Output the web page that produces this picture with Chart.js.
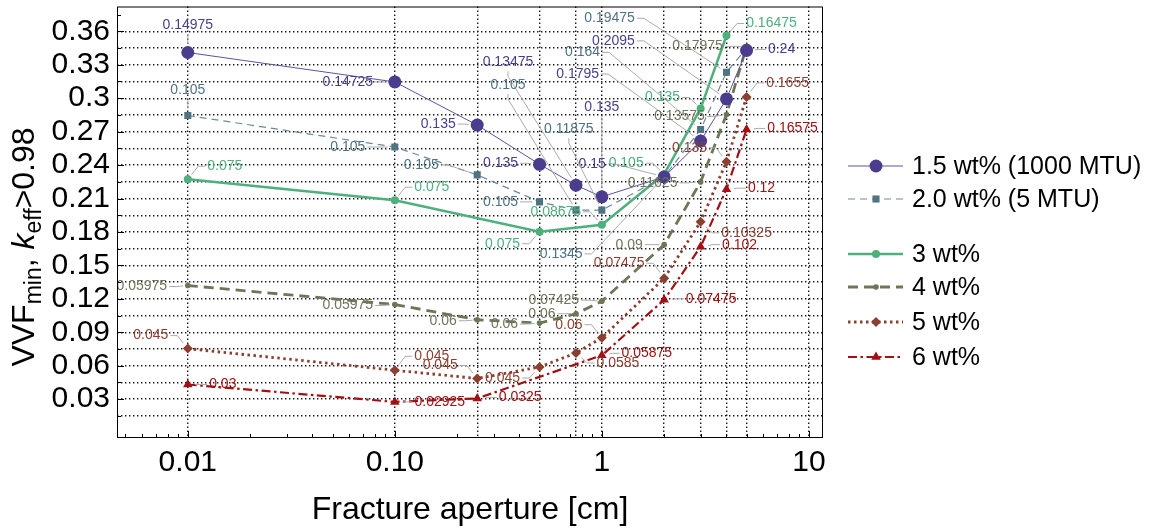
<!DOCTYPE html>
<html>
<head>
<meta charset="utf-8">
<script src="https://cdn.jsdelivr.net/npm/chart.js@4.4.1/dist/chart.umd.min.js"></script>
<style>
  html, body { margin: 0; padding: 0; background: #fff; }
</style>
</head>
<body>
<canvas id="vvf" width="1151" height="529"></canvas>
<script>
// fracture apertures in cm (x), min. VVF with keff > 0.98 per enrichment (y)
const aperture = [0.01, 0.1, 0.25, 0.5, 0.75, 1, 2, 3, 4, 5];
const vvf15 = [0.341, 0.3146, 0.2759, 0.2407, 0.2219, 0.2115, 0.2294, 0.2616, 0.2994, 0.3429];
const vvf20 = [0.2845, 0.2562, 0.2312, 0.207, 0.1996, 0.1996, 0.2294, 0.272, 0.3233, 0.345];
const vvf3 = [0.2273, 0.2085, null, 0.1802, null, 0.1864, 0.2318, 0.2908, 0.3563, null];
const vvf4 = [0.1319, 0.1149, 0.1012, 0.0982, 0.1066, 0.1179, 0.1686, 0.2249, 0.2854, 0.3465];
const vvf5 = [0.0753, 0.0559, 0.0485, 0.0588, 0.0714, 0.0851, 0.1384, 0.1891, 0.243, 0.3012];
const vvf6 = [0.0431, 0.0275, 0.0306, null, null, 0.0693, 0.1191, 0.1668, 0.2184, 0.272];

// callout texts next to each point
const note15 = ['0.14975', '0.14725', '0.135', '0.135', '0.13475', '0.135', '0.15', '0.1795', '0.2095', '0.24'];
const note20 = ['0.105', '0.105', '0.105', '0.105', '0.105', '0.11875', '0.1345', '0.164', '0.19475', null];
const note3 = ['0.075', '0.075', null, '0.075', null, '0.08675', '0.105', '0.135', '0.16475', null];
const note4 = ['0.05975', '0.05975', '0.06', '0.06', '0.06', '0.07425', '0.09', '0.11625', '0.13575', '0.17975'];
const note5 = ['0.045', '0.045', '0.045', '0.045', '0.0585', '0.06', '0.07475', '0.10325', '0.135', '0.1655'];
const note6 = ['0.03', '0.02925', '0.0325', null, null, '0.05875', '0.07475', '0.102', '0.12', '0.16575'];

const seriesNames = ['1.5 wt% (1000 MTU)', '2.0 wt% (5 MTU)', '3 wt%', '4 wt%', '5 wt%', '6 wt%'];
const xGrid = [0.01, 0.1, 0.25, 0.5, 0.75, 1, 2, 3, 4, 5, 10];
const xLabels = { 0.01: '0.01', 0.1: '0.10', 1: '1', 10: '10' };

// where each callout text sits, in px from its point
const place15 = [[0, -27], [-47, 0], [-39, -1], [-39, -1], [-68, -123], [0, -90], [-72, -13], [-123, -67], [-113, -58], [35, -1]];
const place20 = [[0, -25], [-47, 0], [-56, -10], [-39, 0], [-68, -125], [-33, -81], [-103, 77], [-118, -77], [-117, -54], null];
const place3 = [[37, -13], [37, -13], null, [-37, 12], null, [-46, -13], [-38, -11], [-38, -11], [45, -12], null];
const place4 = [[-46, 1], [-47, 1], [-34, 1], [-35, 1], [-34, 0], [-48, -1], [-35, 0], [-48, 1], [-47, 2], [-49, 0]];
const place5 = [[-37, -13], [37, -14], [-37, -13], [-37, 11], [42, 10], [-33, -13], [-45, -15], [46, 11], [-37, -14], [41, -14]];
const place6 = [[35, 0], [45, 0], [43, -1], null, null, [45, -2], [47, -1], [39, -2], [35, -1], [46, -1]];

const FONT = '"Liberation Sans", Arial, sans-serif';

function pts(ys) {
  return aperture.map((x, i) => ({ x: x, y: ys[i] }));
}

const styles = [
  { color: '#4B3C8E', line: '#5E50A2', width: 1, dash: [], point: 'circle', r: 6.5 },
  { color: '#4F7383', line: '#6A8B9A', width: 1.2, dash: [7, 5], point: 'rect', r: 5 },
  { color: '#4DB07D', line: '#4DB07D', width: 2.5, dash: [], point: 'circle', r: 4 },
  { color: '#6C7659', line: '#6C7659', width: 2.8, dash: [10, 6], point: 'circle', r: 2.8 },
  { color: '#8B3F30', line: '#8B3F30', width: 2.8, dash: [2.5, 3.5], point: 'rectRot', r: 5 },
  { color: '#A30F12', line: '#A30F12', width: 2.2, dash: [9, 3.5, 2.5, 3.5], point: 'triangle', r: 5.5 }
];
const allValues = [vvf15, vvf20, vvf3, vvf4, vvf5, vvf6];
const allNotes = [note15, note20, note3, note4, note5, note6];
const allPlaces = [place15, place20, place3, place4, place5, place6];

const datasets = allValues.map((vals, k) => ({
  label: seriesNames[k],
  data: pts(vals),
  borderColor: styles[k].line,
  borderWidth: styles[k].width,
  borderDash: styles[k].dash,
  backgroundColor: styles[k].color,
  pointStyle: styles[k].point,
  pointRadius: styles[k].r,
  pointBackgroundColor: styles[k].color,
  pointBorderWidth: 0,
  tension: 0,
  spanGaps: true
}));

function marker(ctx, style, x, y, r, color) {
  ctx.save();
  ctx.fillStyle = color;
  ctx.beginPath();
  if (style === 'circle') {
    ctx.arc(x, y, r, 0, Math.PI * 2);
  } else if (style === 'rect') {
    const s = r * Math.SQRT1_2;
    ctx.rect(x - s, y - s, 2 * s, 2 * s);
  } else if (style === 'rectRot') {
    ctx.moveTo(x, y - r); ctx.lineTo(x + r, y); ctx.lineTo(x, y + r); ctx.lineTo(x - r, y);
  } else {
    ctx.moveTo(x, y - r);
    ctx.lineTo(x + r * Math.cos(Math.PI / 6), y + r / 2);
    ctx.lineTo(x - r * Math.cos(Math.PI / 6), y + r / 2);
  }
  ctx.closePath();
  ctx.fill();
  ctx.restore();
}

// gray leader + value text for every point
const callouts = {
  id: 'callouts',
  afterDatasetsDraw(chart) {
    const ctx = chart.ctx;
    const xs = chart.scales.x, ys = chart.scales.y;
    ctx.save();
    ctx.font = '14px ' + FONT;
    ctx.textAlign = 'center';
    ctx.textBaseline = 'middle';
    allNotes.forEach((notes, k) => {
      notes.forEach((txt, i) => {
        if (txt == null || allValues[k][i] == null) return;
        const px = xs.getPixelForValue(aperture[i]);
        const py = ys.getPixelForValue(allValues[k][i]);
        const [dx, dy] = allPlaces[k][i];
        const cx = px + dx, cy = py + dy;
        const w = ctx.measureText(txt).width;
        let sx, sy, kx, ky;
        if (Math.abs(dx) >= Math.abs(dy)) {
          const side = dx < 0 ? 1 : -1;
          sx = cx + side * (w / 2 + 2); sy = cy;
          kx = sx + side * Math.min(7, Math.abs(px - sx) * 0.5); ky = sy;
        } else {
          const side = dy < 0 ? 1 : -1;
          sx = cx; sy = cy + side * 9;
          kx = sx; ky = sy + side * 5;
        }
        const vx = px - kx, vy = py - ky, len = Math.hypot(vx, vy);
        const gap = styles[k].r + 2;
        ctx.strokeStyle = '#ababab';
        ctx.lineWidth = 1;
        ctx.setLineDash([]);
        ctx.beginPath();
        ctx.moveTo(sx, sy);
        ctx.lineTo(kx, ky);
        if (len > gap) ctx.lineTo(px - vx / len * gap, py - vy / len * gap);
        ctx.stroke();
        ctx.fillStyle = styles[k].color;
        ctx.fillText(txt, cx, cy);
      });
    });
    ctx.restore();
  }
};

// frame, inward ticks, axis titles and legend
const decor = {
  id: 'decor',
  afterDraw(chart) {
    const ctx = chart.ctx;
    const a = chart.chartArea;
    const xs = chart.scales.x, ys = chart.scales.y;
    ctx.save();
    ctx.strokeStyle = '#000';
    ctx.lineWidth = 1;
    ctx.setLineDash([]);
    ctx.strokeRect(a.left + 0.5, a.top + 0.5, a.right - a.left - 1, a.bottom - a.top - 1);

    ctx.beginPath();
    for (let e = -3; e <= 1; e++) {
      for (let m = 1; m <= 9; m++) {
        const v = m * Math.pow(10, e);
        if (v < xs.min || v > xs.max) continue;
        const x = Math.round(xs.getPixelForValue(v)) + 0.5;
        const len = m === 1 ? 7 : 4;
        ctx.moveTo(x, a.bottom); ctx.lineTo(x, a.bottom - len);
      }
    }
    for (let j = 1; j <= 25; j++) {
      const v = j * 0.015;
      if (v > ys.max) break;
      const y = Math.round(ys.getPixelForValue(v)) + 0.5;
      const len = j % 2 === 0 ? 7 : 4;
      ctx.moveTo(a.left, y); ctx.lineTo(a.left + len, y);
    }
    ctx.stroke();

    // x title
    ctx.fillStyle = '#000';
    ctx.font = '32px ' + FONT;
    ctx.textAlign = 'center';
    ctx.textBaseline = 'alphabetic';
    ctx.fillText('Fracture aperture [cm]', (a.left + a.right) / 2, 519);

    // y title with subscripts
    const parts = [
      { t: 'VVF', f: '32px ' + FONT, d: 0 },
      { t: 'min', f: '23px ' + FONT, d: 7 },
      { t: ', ', f: '32px ' + FONT, d: 0 },
      { t: 'k', f: 'italic 32px ' + FONT, d: 0 },
      { t: 'eff', f: '23px ' + FONT, d: 7 },
      { t: '>0.98', f: '32px ' + FONT, d: 0 }
    ];
    let total = 0;
    parts.forEach(p => { ctx.font = p.f; p.w = ctx.measureText(p.t).width; total += p.w; });
    ctx.translate(34, 247);
    ctx.rotate(-Math.PI / 2);
    ctx.textAlign = 'left';
    let xpos = -total / 2;
    parts.forEach(p => { ctx.font = p.f; ctx.fillText(p.t, xpos, p.d); xpos += p.w; });
    ctx.setTransform(1, 0, 0, 1, 0, 0);

    // legend
    const rows = [166, 199, 254, 287, 322, 357];
    ctx.font = '25px ' + FONT;
    ctx.textAlign = 'left';
    ctx.textBaseline = 'middle';
    rows.forEach((y, k) => {
      const st = styles[k];
      ctx.strokeStyle = st.line;
      ctx.lineWidth = st.width;
      ctx.setLineDash(st.dash);
      ctx.beginPath();
      ctx.moveTo(848, y); ctx.lineTo(903, y);
      ctx.stroke();
      ctx.setLineDash([]);
      marker(ctx, st.point, 876, y, st.r, st.color);
      ctx.fillStyle = '#000';
      ctx.fillText(seriesNames[k], 912, y + 1);
    });
    ctx.restore();
  }
};

new Chart(document.getElementById('vvf'), {
  type: 'line',
  data: { datasets },
  options: {
    responsive: false,
    animation: false,
    layout: { padding: { top: 5, right: 328, left: 0, bottom: 0 } },
    plugins: { legend: { display: false }, tooltip: { enabled: false } },
    scales: {
      x: {
        type: 'logarithmic',
        min: 0.00455,
        max: 11.7,
        afterBuildTicks: s => { s.ticks = xGrid.map(v => ({ value: v })); },
        afterFit: s => { s.height = 91; s.paddingLeft = 0; s.paddingRight = 0; },
        ticks: {
          autoSkip: false,
          maxRotation: 0,
          minRotation: 0,
          padding: 7,
          color: '#000',
          font: { family: FONT, size: 30 },
          callback: v => xLabels[v] || ''
        },
        grid: { color: '#1a1a1a', lineWidth: 1.4, drawTicks: false },
        border: { display: false, dash: [1.4, 2.6] }
      },
      y: {
        min: -0.0049,
        max: 0.3823,
        afterBuildTicks: s => {
          const t = [];
          for (let j = 1; j <= 24; j++) t.push({ value: +(j * 0.015).toFixed(3) });
          s.ticks = t;
        },
        afterFit: s => { s.width = 117; s.paddingTop = 0; s.paddingBottom = 0; },
        ticks: {
          autoSkip: false,
          padding: 7,
          color: '#000',
          font: { family: FONT, size: 30 },
          callback: v => (Math.round(v * 1000) % 30 === 0 ? String(+v.toFixed(2)) : '')
        },
        grid: { color: '#1a1a1a', lineWidth: 1.4, drawTicks: false },
        border: { display: false, dash: [1.4, 2.6] }
      }
    }
  },
  plugins: [callouts, decor]
});
</script>
</body>
</html>
